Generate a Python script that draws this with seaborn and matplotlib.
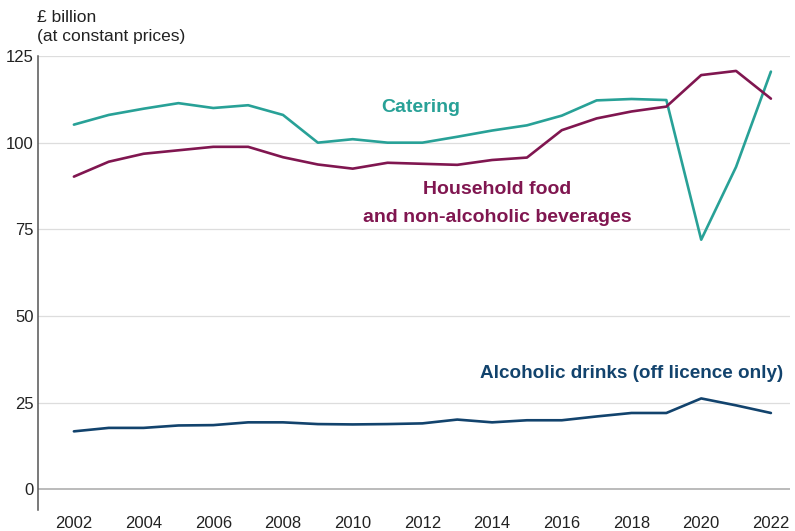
import pandas as pd
import matplotlib.pyplot as plt
import seaborn as sns

# Data (£ billion, constant prices)
years = list(range(2002, 2023))
catering = [105.2, 108.0, 109.8, 111.4, 110.0, 110.8, 108.0, 100.0, 101.0, 100.0, 100.0,
            101.7, 103.5, 105.0, 107.8, 112.2, 112.6, 112.3, 72.0, 93.0, 120.5]
household = [90.2, 94.5, 96.8, 97.8, 98.8, 98.8, 95.8, 93.7, 92.5, 94.2, 93.9,
             93.6, 95.0, 95.7, 103.6, 107.0, 109.0, 110.4, 119.5, 120.7, 112.7]
alcohol = [16.7, 17.7, 17.7, 18.4, 18.5, 19.3, 19.3, 18.8, 18.7, 18.8, 19.0,
           20.1, 19.3, 19.9, 19.9, 21.0, 22.0, 22.0, 26.2, 24.2, 22.0]

series = ["Catering", "Household", "Alcohol"]
colors = {"Catering": "#28A197", "Household": "#801650", "Alcohol": "#12436D"}

df = pd.DataFrame({
    "Year": years * 3,
    "Value": catering + household + alcohol,
    "Series": [s for s in series for _ in years],
})

sns.set_style("white")
plt.rcParams["font.family"] = ["Liberation Sans", "DejaVu Sans"]

fig = plt.figure(figsize=(7.95, 5.31), dpi=100)
ax = fig.add_axes([0.0478, 0.0395, 0.946, 0.855])

sns.lineplot(data=df, x="Year", y="Value", hue="Series", palette=colors,
             linewidth=1.9, legend=False, ax=ax)

ax.set_xlim(2000.97, 2022.55)
ax.set_ylim(-6, 125)
ax.set_yticks([0, 25, 50, 75, 100, 125])
ax.set_xticks(range(2002, 2023, 2))
for t in [25, 50, 75, 100, 125]:
    ax.axhline(t, color="#dddddd", linewidth=0.9, zorder=0)
ax.axhline(0, color="#bbbbbb", linewidth=1.4, zorder=0)

for s in ["top", "right", "bottom"]:
    ax.spines[s].set_visible(False)
ax.spines["left"].set_color("#555555")
ax.spines["left"].set_linewidth(1.1)
ax.tick_params(axis="both", length=0, labelsize=12, colors="#222222")
ax.tick_params(axis="x", pad=4)
ax.tick_params(axis="y", pad=3)
ax.set_xlabel("")
ax.set_ylabel("")

fig.text(0.046, 0.982, "£ billion\n(at constant prices)", ha="left", va="top",
         fontsize=12.5, color="#222222", linespacing=1.4)

ax.text(2011.96, 110.1, "Catering", color=colors["Catering"], fontsize=14,
        fontweight="bold", ha="center", va="center")
ax.text(2014.14, 86.5, "Household food", color=colors["Household"], fontsize=14,
        fontweight="bold", ha="center", va="center")
ax.text(2014.14, 78.4, "and non-alcoholic beverages", color=colors["Household"],
        fontsize=14, fontweight="bold", ha="center", va="center")
ax.text(2022.35, 33.4, "Alcoholic drinks (off licence only)", color=colors["Alcohol"],
        fontsize=13.6, fontweight="bold", ha="right", va="center")

plt.savefig("out.png", dpi=100)
